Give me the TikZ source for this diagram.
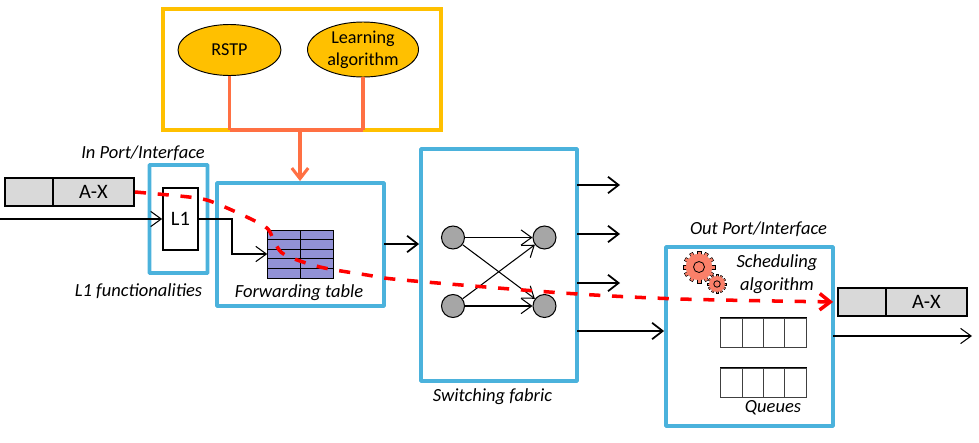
\documentclass[tikz,border=0pt]{standalone}
\usepackage{fontspec}
\setmainfont{Carlito}
\usetikzlibrary{arrows.meta, shapes.geometric}
\definecolor{portblue}{RGB}{75,178,220}
\definecolor{boxyellow}{RGB}{255,192,0}
\definecolor{linkorange}{RGB}{255,112,67}
\definecolor{pktgray}{RGB}{217,217,217}
\definecolor{tablepurple}{RGB}{146,146,214}
\definecolor{nodegray}{RGB}{166,166,166}
\definecolor{gearsalmon}{RGB}{250,128,105}
\def\px{0.03cm}
\tikzset{
  bluebox/.style={shape=rectangle, draw=portblue, line width=3.3pt, rounded corners=0.5pt, inner sep=0pt},
  algo/.style={shape=ellipse, draw=black, thick, fill=boxyellow, align=center, inner sep=0pt, font=\fontsize{15.5}{19}\selectfont},
  pktcell/.style={shape=rectangle, draw=black, line width=1.6pt, fill=pktgray, inner sep=0pt, font=\fontsize{17.5}{20}\selectfont},
  ftcell/.style={shape=rectangle, draw=black, line width=0.6pt, fill=tablepurple, inner sep=0pt, minimum width=32.8*\px, minimum height=9.6*\px},
  qcell/.style={shape=rectangle, draw=black!75, line width=0.8pt, inner sep=0pt, minimum width=21.3*\px, minimum height=29*\px},
  swnode/.style={shape=circle, draw=black, line width=0.9pt, fill=nodegray, inner sep=0pt, minimum size=23*\px},
  caption/.style={inner sep=0pt, align=center, font=\fontsize{15.8}{19.5}\selectfont\itshape},
  thinarrow/.style={-{Straight Barb[length=9pt,width=13pt]}, line width=0.9pt},
  fatarrow/.style={-{Straight Barb[length=9pt,width=14pt]}, line width=1.5pt},
  orangeline/.style={draw=linkorange, line width=2.6pt},
  gearbit/.style={draw=black, fill=gearsalmon, line width=0.4pt},
  pics/cog/.style={code={
    \foreach \a in {0,30,...,330}
      \draw[gearbit, rotate=\a] (-0.12,0.8) rectangle (0.12,1.1);
    \draw[gearsalmon, fill=gearsalmon] (0,0) circle (0.9);
    \draw[draw=black, line width=0.7pt, fill=gearsalmon] (0,0) circle (0.38);
  }},
}
\begin{document}
\begin{tikzpicture}[x=0.03cm, y=-0.03cm]
\useasboundingbox (0,0) rectangle (979,442);
% control plane
\node[shape=rectangle, draw=boxyellow, line width=2.6pt, minimum width=278*\px, minimum height=121*\px] (ctrl) at (302,69.5) {};
\node[algo, minimum width=103*\px, minimum height=51*\px] (rstp) at (229.5,50) {RSTP};
\node[algo, minimum width=111*\px, minimum height=55*\px] (learn) at (363,49.5) {Learning\\algorithm};
\coordinate (rstpdown) at (229.5,130);
\coordinate (learndown) at (363,130);
\coordinate (ctrlout) at (300,130);
\path [orangeline] (rstp) -- (rstpdown);
\path [orangeline] (learn) -- (learndown);
\path [orangeline] (rstpdown) -- (learndown);
% boxes
\node[bluebox, minimum width=58*\px, minimum height=108*\px] (inport) at (178.5,219) {};
\node[bluebox, minimum width=167*\px, minimum height=123*\px] (fwd) at (300.5,244.5) {};
\node[bluebox, minimum width=156*\px, minimum height=232*\px] (fabric) at (499,265) {};
\node[bluebox, minimum width=167*\px, minimum height=179*\px] (outport) at (749.5,336.5) {};
\draw[-{Straight Barb[length=9pt,width=14pt]}, draw=linkorange, line width=2.6pt] (ctrlout) -- (fwd.north -| ctrlout);
% packets
\node[pktcell, minimum width=48*\px, minimum height=28*\px] (pkta) at (29,192) {};
\node[pktcell, minimum width=81*\px, minimum height=28*\px] (pktb) at (93.5,192) {A-X};
\node[pktcell, minimum width=48*\px, minimum height=28*\px] (pktc) at (862,302) {};
\node[pktcell, minimum width=81*\px, minimum height=28*\px] (pktd) at (926.5,302) {A-X};
% L1 and table
\node[shape=rectangle, draw=black, line width=1.5pt, fill=white, inner sep=0pt, minimum width=35*\px, minimum height=62*\px, font=\fontsize{17.5}{20}\selectfont] (l1) at (180.5,219) {L1};
\foreach \r in {0,...,4} {
  \node[ftcell] (fta\r) at (284,234.8+9.6*\r) {};
  \node[ftcell] (ftb\r) at (316.8,234.8+9.6*\r) {};
}
\coordinate (wirein) at (0,219);
\coordinate (bend) at (232,254);
\draw[thinarrow] (wirein) -- (l1.west);
\draw[thinarrow] (l1.east) -| (bend) -- (fta2.west);
% fabric
\node[swnode] (s1) at (453,237.5) {};
\node[swnode] (s2) at (544.5,237.5) {};
\node[swnode] (s3) at (453,306) {};
\node[swnode] (s4) at (544.5,306) {};
\draw[thinarrow] (s1) -- (s2);
\draw[thinarrow] (s1) -- (s4);
\draw[thinarrow] (s3) -- (s2);
\draw[thinarrow] (s3) -- (s4);
\coordinate (fwdout) at (384,244);
\coordinate (o1) at (577,185);
\coordinate (o1e) at (620,185);
\coordinate (o2) at (577,234);
\coordinate (o2e) at (620,234);
\coordinate (o3) at (577,283);
\coordinate (o3e) at (620,283);
\coordinate (o4) at (577,331);
\coordinate (o5) at (833,336);
\coordinate (o5e) at (972,336);
\draw[fatarrow] (fwdout) -- (fabric.west |- fwdout);
\draw[fatarrow] (o1) -- (o1e);
\draw[fatarrow] (o2) -- (o2e);
\draw[fatarrow] (o3) -- (o3e);
\draw[fatarrow] (o4) -- (outport.west |- o4);
\draw[thinarrow] (o5) -- (o5e);
% queues
\foreach \c in {0,...,3} {
  \node[qcell] (qa\c) at (731.6+21.3*\c,332.5) {};
  \node[qcell] (qb\c) at (731.6+21.3*\c,382.5) {};
}
\draw[black, line width=1.2pt] (qa0.north west) -- (qa3.north east);
\draw[black, line width=1.2pt] (qb0.north west) -- (qb3.north east);
% gears
\pic[scale=14.5] at (699,267) {cog};
\pic[scale=8.5] at (717,284) {cog};
% labels
\node[caption] (inlabel) at (143,153) {In Port/Interface};
\node[caption] (l1label) at (138.5,291) {L1 functionalities};
\node[caption] (fwdlabel) at (299,293) {Forwarding table};
\node[caption] (swlabel) at (492.5,397) {Switching fabric};
\node[caption] (outlabel) at (758.5,229) {Out Port/Interface};
\node[caption] (schedlabel) at (777,274) {Scheduling\\algorithm};
\node[caption] (qlabel) at (773,408) {Queues};
% flow
\draw[-{Straight Barb[length=9pt,width=14pt]}, draw=red, line width=3pt, dash pattern=on 9.5pt off 10pt, shorten >=4*\px] plot[smooth, tension=0.5] coordinates {(pktb.east) (197,198) (220,205) (253,220) (268,229) (275,243) (285,255) (320,267) (367,275) (403,280) (563,293) (680,299) (pktc.west)};
\end{tikzpicture}
\end{document}
